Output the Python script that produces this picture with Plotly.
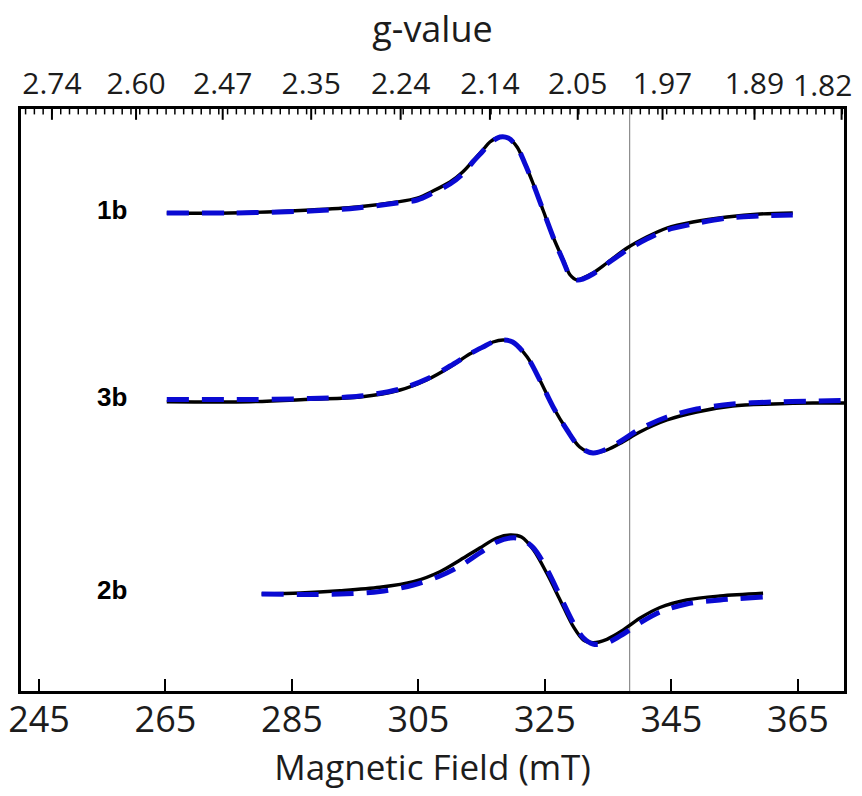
import plotly.graph_objects as go

# ---- EPR spectra (first-derivative), experimental vs. simulated ----
# Field positions in mT, intensities in arbitrary units (relative to each baseline)

field_1b = [265.2, 275.2, 287.9, 295.3, 301.6, 304.8, 307.3, 310.0, 312.0, 313.6,
            315.2, 316.3, 317.9, 319.2, 320.6, 321.8, 323.1, 324.7, 326.3, 327.9,
            329.0, 330.1, 331.0, 332.6, 334.8, 338.0, 341.1, 344.3, 348.4, 353.8,
            359.0, 364.2]
exp_1b = [0, 0, 3, 6, 11, 15, 22, 31, 41, 52,
          63, 71, 76, 75, 66, 50, 30, 3, -24, -47,
          -62, -67, -65, -60, -50, -35, -24, -15, -9, -4,
          -1, 0]
sim_1b = [0, 0, 2, 5, 10, 13, 20, 29, 39, 51,
          62, 70, 76, 75, 66, 50, 30, 3, -24, -48,
          -63, -67, -66, -61, -51, -37, -26, -17, -11, -5,
          -3, -2]

field_3b = [265.2, 278.4, 287.9, 295.8, 302.1, 306.3, 310.0, 313.1, 315.2, 316.8,
            318.4, 319.9, 322.2, 324.2, 326.3, 328.5, 330.5, 332.6, 334.8, 337.3,
            340.0, 344.3, 349.0, 354.7, 361.1, 367.4, 372.3]
exp_3b = [-1.7, -1.7, 0.7, 3, 10, 20, 33, 46, 53, 58,
          60, 58, 43, 20, -7, -30, -47, -53, -50, -42,
          -32, -20, -12, -6, -4, -3, -3]
sim_3b = [0.5, 0.5, 1.5, 4, 11, 21, 34, 46, 53, 58,
          60, 58, 43, 20, -7, -30, -47, -53, -49, -40,
          -29, -17, -9, -4, -2, -1, -0.5]

field_2b = [280.2, 286.3, 292.6, 298.9, 304.2, 308.4, 311.6, 314.7, 317.4, 319.5,
            321.3, 323.2, 325.3, 327.4, 329.5, 331.1, 332.6, 334.8, 337.4, 340.0,
            343.2, 347.4, 352.7, 359.5]
exp_2b = [-1, 0, 2.3, 5.7, 11.3, 21.3, 33, 45, 55, 58,
          56, 43, 19.7, -7, -33.7, -47, -49.7, -46.3, -37, -25.3,
          -14.5, -7, -3, -0.3]
sim_2b = [-1, -1.5, -1, 1.5, 8, 17, 27, 40, 51, 55,
          54, 45, 24, -3, -30, -45, -51, -50, -41, -30,
          -19, -11, -7, -4]

samples = ["1b", "3b", "2b"]
baselines = [478, 291, 98]          # vertical stacking offsets
label_field = 256.6                 # where the sample names sit along the field axis

# g-value axis: microwave frequency and tick labels
freq_ghz = 9.474
g_ticks = ["2.74", "2.60", "2.47", "2.35", "2.24", "2.14", "2.05", "1.97", "1.89", "1.82"]
field_ticks = [245, 265, 285, 305, 325, 345, 365]
x_range = [242.15, 372.3]
y_range = [0, 582]
ref_field = 338.4                   # free-electron reference line

BLACK = "#000000"
BLUE = "#0a0ad2"
TEXT = "#1c1c1c"
axis_font = "Open Sans, Segoe UI, sans-serif"

fig = go.Figure()

series = [(field_1b, exp_1b, sim_1b), (field_3b, exp_3b, sim_3b), (field_2b, exp_2b, sim_2b)]
for name, base, (fx, ex, sx) in zip(samples, baselines, series):
    fig.add_trace(go.Scatter(
        x=fx, y=[v + base for v in ex], mode="lines", name=f"{name} exp",
        line=dict(color=BLACK, width=3.4, shape="spline", smoothing=0.9),
        showlegend=False, hoverinfo="skip"))
    fig.add_trace(go.Scatter(
        x=fx, y=[v + base for v in sx], mode="lines", name=f"{name} sim",
        line=dict(color=BLUE, width=5, dash="22px,13px", shape="spline", smoothing=0.9),
        showlegend=False, hoverinfo="skip"))
    fig.add_annotation(x=label_field, y=base + 3, text=f"<b>{name}</b>", showarrow=False,
                       xanchor="center", yanchor="middle",
                       font=dict(family="Liberation Sans, Arial", size=26, color=BLACK))

# g-value positions along the field axis: B(mT) = h*nu / (g*muB)
hv_const = 71.4477 * freq_ghz
g_pos = [hv_const / float(g) for g in g_ticks]
step = (g_pos[-2] - g_pos[0]) / 8 / 10
minor_pos = []
b = g_pos[0]
while b - step > x_range[0]:
    b -= step
while b < x_range[1]:
    minor_pos.append(b)
    b += step

# invisible trace that brings the top axis into existence
fig.add_trace(go.Scatter(x=x_range, y=[None, None], xaxis="x2", mode="lines",
                         showlegend=False, hoverinfo="skip"))

# inward ticks hanging from the top frame (g-value scale); one y unit is one pixel here
px_per_unit = 582 / (y_range[1] - y_range[0])
for vals, length, width in ((minor_pos, 4.5, 1.5), (g_pos, 9, 2)):
    fig.add_trace(go.Scatter(
        x=vals, y=[y_range[1] - length / 2 / px_per_unit] * len(vals), mode="markers",
        marker=dict(symbol="line-ns", size=length, color=BLACK,
                    line=dict(color=BLACK, width=width)),
        cliponaxis=False, showlegend=False, hoverinfo="skip"))

fig.add_shape(type="line", x0=ref_field, x1=ref_field, y0=0, y1=1, yref="paper",
              xref="x", line=dict(color="#8c8c8c", width=1.2), layer="below")

# last g label sits at the right-hand frame; keep it inside the page
fig.add_annotation(x=g_pos[-1], xref="x", y=1, yref="paper", text=g_ticks[-1],
                   showarrow=False, xanchor="right", yanchor="middle",
                   xshift=12, yshift=25,
                   font=dict(family=axis_font, size=30, color=TEXT))

fig.update_layout(
    width=862, height=796,
    margin=dict(l=21, r=18, t=109, b=105, autoexpand=False),
    paper_bgcolor="white", plot_bgcolor="rgba(0,0,0,0)",
    xaxis=dict(
        range=x_range, tickmode="array", tickvals=field_ticks,
        ticktext=[str(v) for v in field_ticks],
        ticks="inside", ticklen=12, tickwidth=2, tickcolor=BLACK,
        showline=True, linewidth=3, linecolor=BLACK, mirror=False,
        showgrid=False, zeroline=False, automargin=False,
        ticklabelstandoff=-5,
        tickfont=dict(family=axis_font, size=36, color=TEXT),
        title=dict(text="Magnetic Field (mT)", standoff=12,
                   font=dict(family=axis_font, size=35, color=TEXT)),
    ),
    xaxis2=dict(
        range=x_range, side="top", anchor="y", overlaying="x",
        tickmode="array", tickvals=g_pos, ticktext=g_ticks[:-1] + [""],
        ticks="", automargin=False,
        showline=True, linewidth=3, linecolor=BLACK,
        showgrid=False, zeroline=False,
        tickfont=dict(family=axis_font, size=30, color=TEXT),
        title=dict(text="g-value", standoff=9,
                   font=dict(family=axis_font, size=36, color=TEXT)),
    ),
    yaxis=dict(
        range=y_range, showline=True, linewidth=3, linecolor=BLACK, mirror=True,
        ticks="", showticklabels=False, showgrid=False, zeroline=False,
        automargin=False,
    ),
)

fig.write_html("out.html")
